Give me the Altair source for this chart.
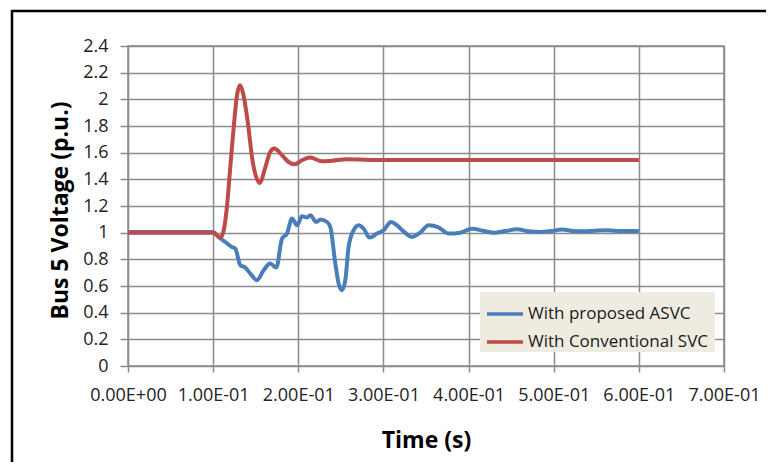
import altair as alt
import pandas as pd

# ---- data ----
t_asvc = [0.0, 0.05, 0.1, 0.1064, 0.1143, 0.122, 0.126, 0.132, 0.1378, 0.1437, 0.1515,
          0.1593, 0.167, 0.1742, 0.1809, 0.1867, 0.1926, 0.1985, 0.2044, 0.2102, 0.2141,
          0.2212, 0.2259, 0.2337, 0.2376, 0.2435, 0.2474, 0.2513, 0.2552, 0.2591, 0.265,
          0.2709, 0.2767, 0.2838, 0.2924, 0.3002, 0.3089, 0.316, 0.3236, 0.3336, 0.3431,
          0.3531, 0.3646, 0.3766, 0.39, 0.404, 0.4167, 0.4294, 0.443, 0.4569, 0.4706,
          0.4843, 0.497, 0.5098, 0.5224, 0.535, 0.549, 0.5626, 0.58, 0.6]
v_asvc = [1.005, 1.005, 1.005, 0.968, 0.93, 0.893, 0.88, 0.755, 0.738, 0.693, 0.643,
          0.718, 0.768, 0.738, 0.956, 0.993, 1.106, 1.055, 1.123, 1.113, 1.13,
          1.08, 1.098, 1.08, 1.043, 0.768, 0.618, 0.568, 0.643, 0.893, 1.018,
          1.055, 1.03, 0.963, 0.993, 1.018, 1.08, 1.055, 1.01, 0.968, 1.0,
          1.055, 1.04, 0.993, 1.0, 1.03, 1.015, 1.0, 1.012, 1.025, 1.01,
          1.005, 1.012, 1.023, 1.013, 1.01, 1.015, 1.018, 1.012, 1.013]

t_svc = [0.0, 0.05, 0.1, 0.1084, 0.1125, 0.1163, 0.12, 0.124, 0.128, 0.1315, 0.135,
         0.1398, 0.1468, 0.1546, 0.1613, 0.167, 0.1718, 0.181, 0.1886, 0.1957, 0.2043,
         0.214, 0.228, 0.24, 0.257, 0.3, 0.4, 0.5, 0.6]
v_svc = [1.0, 1.0, 1.0, 0.963, 1.02, 1.2, 1.48, 1.78, 2.03, 2.105, 2.05,
         1.87, 1.52, 1.373, 1.49, 1.605, 1.631, 1.58, 1.53, 1.513, 1.543,
         1.563, 1.535, 1.54, 1.55, 1.545, 1.545, 1.545, 1.545]

x_ticks = [0, 0.1, 0.2, 0.3, 0.4, 0.5, 0.6, 0.7]
y_ticks = [0, 0.2, 0.4, 0.6, 0.8, 1, 1.2, 1.4, 1.6, 1.8, 2, 2.2, 2.4]

series_names = ["With proposed ASVC", "With Conventional  SVC"]
series_colors = ["#4A7EBB", "#BE4B48"]

rows = []
for t, v in zip(t_asvc, v_asvc):
    rows.append({"t": t, "v": v, "series": series_names[0]})
for t, v in zip(t_svc, v_svc):
    rows.append({"t": t, "v": v, "series": series_names[1]})
df = pd.DataFrame(rows)

FONT = "Open Sans"
GRID = "#8a8a8a"

x_enc = alt.X("t:Q",
              scale=alt.Scale(domain=[0, 0.7], nice=False),
              axis=alt.Axis(values=x_ticks,
                            labelExpr="datum.value == 0 ? '0.00E+00' : format(datum.value*10, '.2f') + 'E-01'",
                            title="Time (s)", titleFontSize=23, titleFontWeight="bold",
                            titleFont=FONT, titleColor="#000",
                            titleY=74, titleBaseline="middle",
                            labelPadding=14, tickSize=6))
y_enc = alt.Y("v:Q",
              scale=alt.Scale(domain=[0, 2.4], nice=False),
              axis=alt.Axis(values=y_ticks,
                            format="~g",
                            title="Bus 5 Voltage (p.u.)", titleFontSize=23,
                            titleFontWeight="bold", titleFont=FONT, titleColor="#000",
                            titleX=-68, titleY=164, titleAngle=270,
                            titleAlign="center", titleBaseline="middle",
                            labelPadding=12, tickSize=8))

lines = alt.Chart(df).mark_line(strokeWidth=4, interpolate="monotone").encode(
    x=x_enc,
    y=y_enc,
    color=alt.Color("series:N",
                    scale=alt.Scale(domain=series_names, range=series_colors),
                    sort=series_names,
                    legend=alt.Legend(title=None, orient="none", legendX=352, legendY=246,
                                      fillColor="#EEECE1", padding=2,
                                      symbolType="stroke", symbolSize=1300,
                                      symbolStrokeWidth=3.5, symbolOffset=3,
                                      labelFont=FONT, labelFontSize=17,
                                      labelColor="#1a1a1a", labelOffset=3,
                                      rowPadding=0, labelLimit=300)),
    order=alt.Order("t:Q"),
)

frame = alt.Chart(pd.DataFrame({"a": [0]})).mark_rect(
    fill=None, stroke="#000", strokeWidth=2.5, clip=False
).encode(x=alt.value(-116), x2=alt.value(700), y=alt.value(-35), y2=alt.value(500))

chart = alt.layer(lines, frame).properties(
    width=596, height=320,
    padding={"left": 120, "top": 38, "right": 42, "bottom": 96},
    autosize=alt.AutoSizeParams(type="none"),
    background="white",
).configure_axis(
    labelFont=FONT, labelFontSize=18, labelColor="#222", labelOverlap=False,
    tickColor=GRID, tickWidth=1.5, grid=True, gridColor=GRID, gridWidth=1.5,
    domain=False, labelFlush=False,
).configure_view(stroke=GRID, strokeWidth=1.5)

chart.save("out.html", embed_options={"renderer": "svg", "actions": False})
